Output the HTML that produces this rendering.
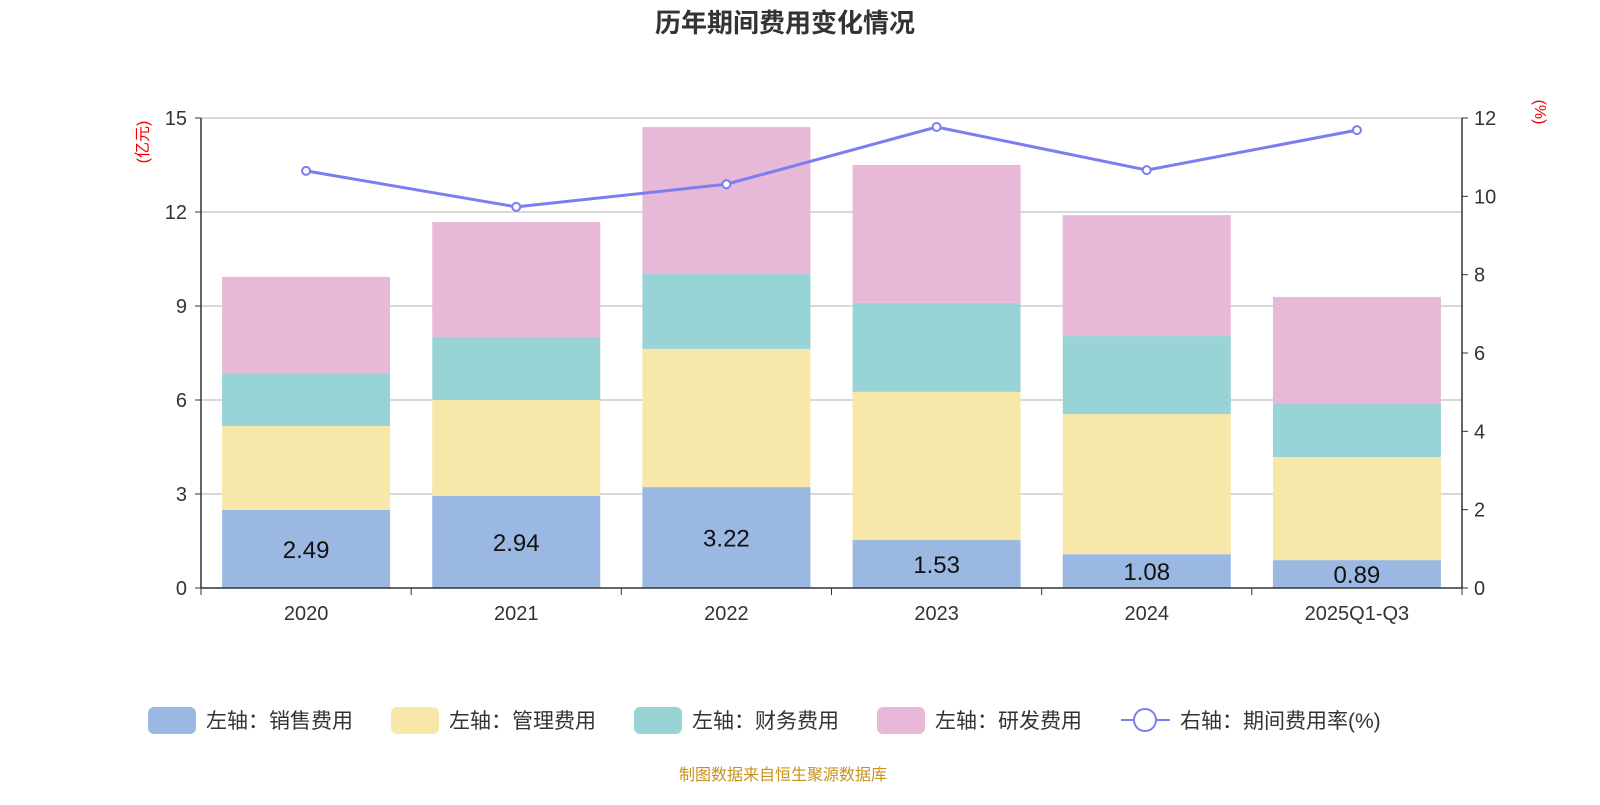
<!DOCTYPE html>
<html><head><meta charset="utf-8">
<style>
body{margin:0;background:#fff;width:1600px;height:800px;overflow:hidden;font-family:"Liberation Sans","Noto Sans CJK SC",sans-serif;}
</style></head>
<body>
<svg id="chart" width="1600" height="800" xmlns="http://www.w3.org/2000/svg" font-family="Liberation Sans, Noto Sans CJK SC, sans-serif"></svg>
<script>
const categories=["2020","2021","2022","2023","2024","2025Q1-Q3"];
const sales=[2.49,2.94,3.22,1.53,1.08,0.89];
const mgmt=[2.68,3.06,4.41,4.73,4.47,3.29];
const finance=[1.69,2.01,2.39,2.84,2.49,1.72];
const rnd=[3.07,3.67,4.69,4.40,3.86,3.39];
const rate=[10.65,9.73,10.31,11.77,10.67,11.69];
const leftTicks=[0,3,6,9,12,15];
const rightTicks=[0,2,4,6,8,10,12];

const svg=document.getElementById('chart');
const NS="http://www.w3.org/2000/svg";
const x0=201,x1=1462,yB=588,yT=118;
const yL=v=>yB-(yB-yT)*v/15;
const yR=v=>yB-(yB-yT)*v/12;
const bw=(x1-x0)/categories.length;
const xc=i=>x0+bw*(i+0.5);
function mk(t,a,parent){const e=document.createElementNS(NS,t);for(const k in a)e.setAttribute(k,a[k]);(parent||svg).appendChild(e);return e;}

let e=mk('text',{x:785,y:32,'text-anchor':'middle','font-size':26,'font-weight':'bold',fill:'#333'});e.textContent='历年期间费用变化情况';



leftTicks.forEach(v=>{
  if(v>0){const g=mk('line',{x1:x0,x2:x1,y1:yL(v),y2:yL(v),stroke:'#ccc','stroke-width':1.5});
  
  }
  const t=mk('text',{x:x0-14,y:yL(v)+7,'text-anchor':'end','font-size':20,fill:'#333'});t.textContent=v;
  
  
  const k=mk('line',{x1:x0-6,x2:x0,y1:yL(v),y2:yL(v),stroke:'#333'});
});
rightTicks.forEach(v=>{
  const t=mk('text',{x:x1+12,y:yR(v)+7,'font-size':20,fill:'#333'});t.textContent=v;
  
  
  mk('line',{x1:x1,x2:x1+6,y1:yR(v),y2:yR(v),stroke:'#333'});
});
mk('line',{x1:x0,x2:x0,y1:yT,y2:yB,stroke:'#333','stroke-width':1.5});
mk('line',{x1:x1,x2:x1,y1:yT,y2:yB,stroke:'#333','stroke-width':1.5});
let lu=mk('text',{transform:'translate(148,142) rotate(-90)','text-anchor':'middle','font-size':16,fill:'#e00'});lu.textContent='(亿元)';


let ru=mk('text',{transform:'translate(1535,112) rotate(90)','text-anchor':'middle','font-size':16,fill:'#e00'});ru.textContent='(%)';



const series=[[sales,'#9bb8e2','bar-sales'],[mgmt,'#f7e7a9','bar-mgmt'],[finance,'#98d4d6','bar-finance'],[rnd,'#e7b8d8','bar-rnd']];
categories.forEach((c,i)=>{
  let base=0;
  series.forEach(([arr,col,nm])=>{
    const r=mk('rect',{x:xc(i)-84,width:168,y:yL(base+arr[i]),height:yL(base)-yL(base+arr[i]),fill:col});
    
    
    base+=arr[i];
  });
  const t=mk('text',{x:xc(i),y:(yL(0)+yL(sales[i]))/2+9,'text-anchor':'middle','font-size':24,fill:'#111'});t.textContent=sales[i].toFixed(2);
  
  
  const l=mk('text',{x:xc(i),y:620,'text-anchor':'middle','font-size':20,fill:'#333'});l.textContent=c;
  
  
});
mk('line',{x1:x0,x2:x1,y1:yB,y2:yB,stroke:'#333','stroke-width':1.5});
for(let i=0;i<=categories.length;i++)mk('line',{x1:x0+bw*i,x2:x0+bw*i,y1:yB,y2:yB+7,stroke:'#333'});

const pl=mk('polyline',{points:rate.map((v,i)=>xc(i)+','+yR(v)).join(' '),fill:'none',stroke:'#7b7df0','stroke-width':3});


rate.forEach((v,i)=>{const c=mk('circle',{cx:xc(i),cy:yR(v),r:4,fill:'#fff',stroke:'#7b7df0','stroke-width':2});
  
  });

const legend=[['左轴：销售费用','#9bb8e2',148],['左轴：管理费用','#f7e7a9',391],['左轴：财务费用','#98d4d6',634],['左轴：研发费用','#e7b8d8',877]];
legend.forEach(([txt,col,x])=>{
  const g=mk('g',{});
  
  
  mk('rect',{x:x,y:707,width:48,height:27,rx:6,fill:col},g);
  const t=mk('text',{x:x+58,y:728,'font-size':21,fill:'#333'},g);t.textContent=txt;
});
const lg=mk('g',{});


mk('line',{x1:1121,x2:1170,y1:720,y2:720,stroke:'#7b7df0','stroke-width':2},lg);
mk('circle',{cx:1145,cy:720,r:11,fill:'#fff',stroke:'#7b7df0','stroke-width':2},lg);
const lt=mk('text',{x:1180,y:728,'font-size':21,fill:'#333'},lg);lt.textContent='右轴：期间费用率(%)';

const f=mk('text',{x:783,y:780,'text-anchor':'middle','font-size':16,fill:'#c8921a'});f.textContent='制图数据来自恒生聚源数据库';


</script>
</body></html>
